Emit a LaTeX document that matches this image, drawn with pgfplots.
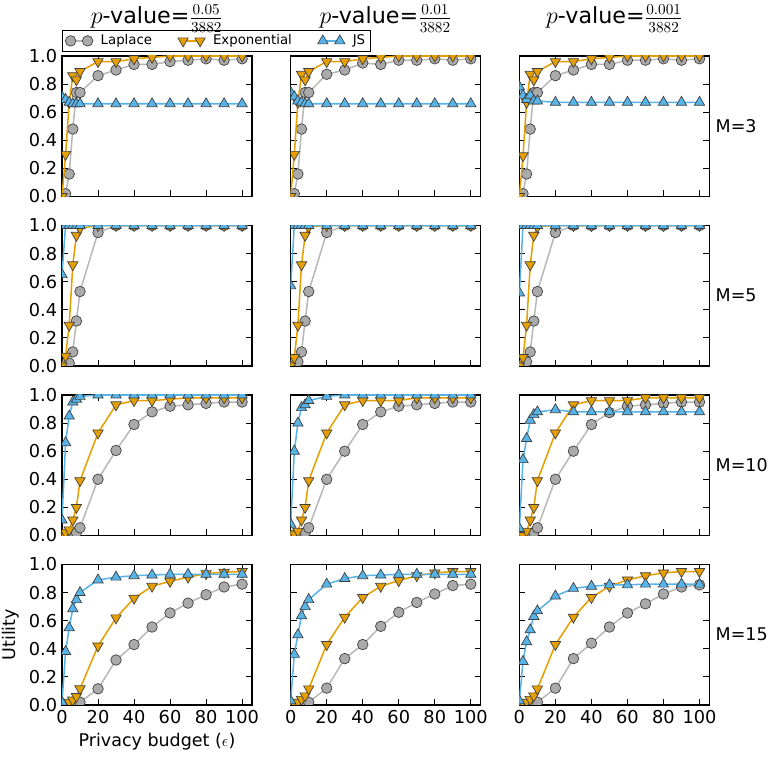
\documentclass[border=0pt]{standalone}
\usepackage{pgfplots}
\pgfplotsset{compat=1.18}
\usepackage{pgfplotstable}
\usepgfplotslibrary{groupplots}
\usepackage{fontspec}
\setmainfont{DejaVu Sans}
\definecolor{lapfill}{HTML}{AAAAAA}
\definecolor{lapline}{HTML}{B8B8B8}
\definecolor{expc}{HTML}{E69F00}
\definecolor{jsc}{HTML}{56B4E9}
\newlength{\px}\setlength{\px}{0.72pt}

\pgfplotstableread{
x lap exp js
0 0.00 0.00 0.71
2 0.02 0.30 0.69
4 0.16 0.67 0.67
6 0.48 0.86 0.66
8 0.74 0.83 0.66
10 0.74 0.89 0.66
20 0.86 0.96 0.66
30 0.90 0.96 0.66
40 0.94 0.98 0.66
50 0.94 0.99 0.66
60 0.96 1.00 0.66
70 0.97 1.00 0.66
80 0.98 1.00 0.66
90 0.97 1.00 0.66
100 0.98 1.00 0.66
}\dAa
\pgfplotstableread{
x lap exp js
0 0.00 0.00 0.74
2 0.02 0.30 0.71
4 0.16 0.67 0.68
6 0.48 0.87 0.67
8 0.74 0.83 0.66
10 0.74 0.89 0.66
20 0.87 0.96 0.66
30 0.90 0.96 0.66
40 0.95 0.98 0.66
50 0.94 0.99 0.66
60 0.97 1.00 0.66
70 0.97 1.00 0.66
80 0.98 1.00 0.66
90 0.97 1.00 0.66
100 0.98 1.00 0.66
}\dAb
\pgfplotstableread{
x lap exp js
0 0.00 0.00 0.78
2 0.02 0.29 0.72
4 0.16 0.67 0.69
6 0.48 0.87 0.72
8 0.74 0.83 0.68
10 0.74 0.89 0.68
20 0.86 0.96 0.67
30 0.90 0.96 0.67
40 0.94 0.98 0.67
50 0.94 0.99 0.67
60 0.97 1.00 0.67
70 0.97 1.00 0.67
80 0.98 1.00 0.67
90 0.97 1.00 0.67
100 0.98 1.00 0.67
}\dAc
\pgfplotstableread{
x lap exp js
0 0.00 0.00 0.65
2 0.00 0.07 1.00
4 0.02 0.29 1.00
6 0.10 0.72 1.00
8 0.32 0.93 1.00
10 0.53 0.98 1.00
20 0.95 1.00 1.00
30 1.00 1.00 1.00
40 1.00 1.00 1.00
50 1.00 1.00 1.00
60 1.00 1.00 1.00
70 1.00 1.00 1.00
80 1.00 1.00 1.00
90 1.00 1.00 1.00
100 1.00 1.00 1.00
}\dBa
\pgfplotstableread{
x lap exp js
0 0.00 0.00 0.57
2 0.00 0.06 1.00
4 0.03 0.29 1.00
6 0.10 0.72 1.00
8 0.32 0.93 1.00
10 0.53 0.99 1.00
20 0.95 1.00 1.00
30 1.00 1.00 1.00
40 1.00 1.00 1.00
50 1.00 1.00 1.00
60 1.00 1.00 1.00
70 1.00 1.00 1.00
80 1.00 1.00 1.00
90 1.00 1.00 1.00
100 1.00 1.00 1.00
}\dBb
\pgfplotstableread{
x lap exp js
0 0.00 0.00 0.52
2 0.00 0.06 1.00
4 0.03 0.29 1.00
6 0.10 0.72 1.00
8 0.32 0.93 1.00
10 0.53 0.99 1.00
20 0.95 1.00 1.00
30 1.00 1.00 1.00
40 1.00 1.00 1.00
50 1.00 1.00 1.00
60 1.00 1.00 1.00
70 1.00 1.00 1.00
80 1.00 1.00 1.00
90 1.00 1.00 1.00
100 1.00 1.00 1.00
}\dBc
\pgfplotstableread{
x lap exp js
0 0.00 0.00 0.11
2 0.00 0.02 0.66
4 0.00 0.04 0.85
6 0.00 0.11 0.95
8 0.02 0.20 0.97
10 0.055 0.39 0.99
20 0.40 0.73 1.00
30 0.605 0.93 1.00
40 0.79 0.96 1.00
50 0.88 0.96 1.00
60 0.92 0.97 1.00
70 0.93 0.98 1.00
80 0.94 0.98 1.00
90 0.95 0.98 1.00
100 0.95 0.98 1.00
}\dCa
\pgfplotstableread{
x lap exp js
0 0.00 0.00 0.08
2 0.00 0.01 0.60
4 0.00 0.03 0.80
6 0.00 0.11 0.91
8 0.02 0.20 0.93
10 0.055 0.39 0.96
20 0.40 0.73 0.99
30 0.60 0.93 1.00
40 0.79 0.96 1.00
50 0.88 0.96 1.00
60 0.92 0.96 1.00
70 0.93 0.98 1.00
80 0.94 0.98 1.00
90 0.95 0.98 1.00
100 0.95 0.98 1.00
}\dCb
\pgfplotstableread{
x lap exp js
0 0.00 0.00 0.05
2 0.00 0.00 0.54
4 0.00 0.03 0.69
6 0.00 0.11 0.82
8 0.02 0.20 0.86
10 0.055 0.39 0.88
20 0.40 0.73 0.895
30 0.60 0.93 0.88
40 0.79 0.96 0.88
50 0.875 0.96 0.88
60 0.92 0.96 0.88
70 0.93 0.98 0.88
80 0.94 0.98 0.88
90 0.95 0.98 0.88
100 0.95 0.98 0.88
}\dCc
\pgfplotstableread{
x lap exp js
0 0.00 0.00 0.02
2 0.00 0.01 0.38
4 0.00 0.02 0.55
6 0.00 0.035 0.685
8 0.00 0.06 0.75
10 0.02 0.115 0.80
20 0.115 0.42 0.89
30 0.32 0.62 0.91
40 0.43 0.76 0.92
50 0.555 0.845 0.925
60 0.655 0.88 0.93
70 0.725 0.91 0.93
80 0.785 0.935 0.93
90 0.84 0.945 0.93
100 0.86 0.95 0.93
}\dDa
\pgfplotstableread{
x lap exp js
0 0.00 0.00 0.03
2 0.00 0.01 0.36
4 0.00 0.02 0.50
6 0.00 0.04 0.635
8 0.00 0.065 0.70
10 0.02 0.115 0.75
20 0.12 0.43 0.86
30 0.33 0.625 0.90
40 0.43 0.765 0.92
50 0.56 0.845 0.925
60 0.66 0.885 0.93
70 0.73 0.92 0.93
80 0.79 0.94 0.93
90 0.85 0.95 0.93
100 0.86 0.95 0.93
}\dDb
\pgfplotstableread{
x lap exp js
0 0.00 0.00 0.03
2 0.00 0.01 0.31
4 0.00 0.02 0.45
6 0.00 0.04 0.535
8 0.00 0.065 0.63
10 0.02 0.115 0.67
20 0.12 0.43 0.775
30 0.33 0.625 0.83
40 0.44 0.765 0.845
50 0.555 0.845 0.855
60 0.655 0.89 0.855
70 0.72 0.92 0.86
80 0.79 0.94 0.86
90 0.84 0.95 0.86
100 0.855 0.95 0.86
}\dDc

\pgfplotsset{
  legend image code/.code={\draw[#1] plot coordinates {(0pt,0pt) (17\px,0pt)};},
  lap/.style={color=lapline, line width=1.1pt, mark=*, mark size=3.8pt,
    mark options={solid, fill=lapfill, draw=black!75, line width=0.5pt}},
  expo/.style={color=expc, line width=1.1pt, mark=triangle*, mark size=4.3pt,
    mark options={solid, rotate=180, fill=expc, draw=black!75, line width=0.5pt}},
  jsp/.style={color=jsc, line width=1.1pt, mark=triangle*, mark size=4.3pt,
    mark options={solid, fill=jsc, draw=black!75, line width=0.5pt}},
}
\newcommand{\three}[1]{%
  \addplot[lap] table[x=x,y=lap]{#1};
  \addplot[expo] table[x=x,y=exp]{#1};
  \addplot[jsp] table[x=x,y=js]{#1};
}

\begin{document}
\begin{tikzpicture}
\begin{groupplot}[
  group style={group size=3 by 4, horizontal sep=38.7\px, vertical sep=29\px,
    xticklabels at=edge bottom, yticklabels at=edge left},
  scale only axis, width=190\px, height=140.5\px,
  xmin=0, xmax=105.5, ymin=0, ymax=1,
  xtick={0,20,40,60,80,100}, ytick={0,0.2,0.4,0.6,0.8,1},
  tick align=inside, xtick pos=both, ytick pos=both, major tick length=6\px,
  /pgf/number format/assume math mode=true,
  yticklabel style={/pgf/number format/.cd, fixed, fixed zerofill, precision=1},
  tick label style={font=\fontsize{12.8}{15}\selectfont},
  label style={font=\fontsize{12.6}{15}\selectfont},
  axis line style={line width=0.8pt},
  every tick/.style={black, line width=0.6pt},
  clip marker paths=true,
]
\nextgroupplot[legend columns=3,
  legend style={at={(0,1)}, anchor=south west, yshift=4\px, draw=black, line width=0.8pt,
    font=\fontsize{9.6}{11}\selectfont, inner ysep=1.2pt, inner xsep=2pt,
    /tikz/every odd column/.append style={column sep=5\px},
    /tikz/every even column/.append style={column sep=23\px}},
  legend cell align=left]
\three{\dAa}
\legend{Laplace, Exponential, JS}
\nextgroupplot
\three{\dAb}
\nextgroupplot
\three{\dAc}
\nextgroupplot
\three{\dBa}
\nextgroupplot
\three{\dBb}
\nextgroupplot
\three{\dBc}
\nextgroupplot
\three{\dCa}
\nextgroupplot
\three{\dCb}
\nextgroupplot
\three{\dCc}
\nextgroupplot[xlabel={Privacy budget (\(\epsilon\))}, ylabel={Utility}]
\three{\dDa}
\nextgroupplot
\three{\dDb}
\nextgroupplot
\three{\dDc}
\end{groupplot}
\foreach \c/\v in {1/0.05, 2/0.01, 3/0.001}{
  \node[anchor=base, font=\fontsize{16}{19}\selectfont] at ([yshift=32\px]group c\c r1.north) {\(p\)-value=\(\frac{\v}{3882}\)};
}
\foreach \r/\m in {1/3, 2/5, 3/10, 4/15}{
  \node[anchor=west, font=\fontsize{12.6}{15}\selectfont, inner sep=0pt] at ([xshift=6\px]group c3r\r.east) {M=\m};
}
\pgfresetboundingbox
\path[use as bounding box] ([shift={(-62\px,56\px)}]group c1r1.north west) rectangle ([shift={(706\px,-701\px)}]group c1r1.north west);
\end{tikzpicture}
\end{document}
